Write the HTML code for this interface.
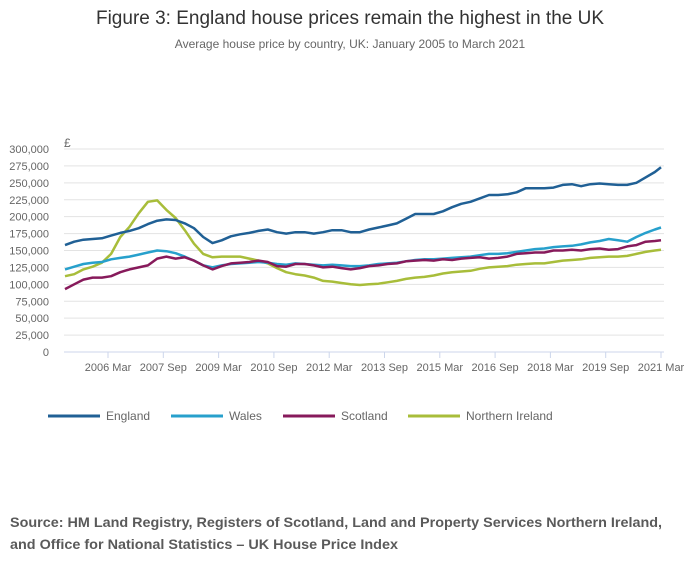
<!DOCTYPE html>
<html><head><meta charset="utf-8"><style>
body{margin:0;background:#fff;font-family:"Liberation Sans",sans-serif}
svg{display:block}
</style></head><body>
<svg id="chart" width="700" height="574" xmlns="http://www.w3.org/2000/svg">
<text x="350" y="24" text-anchor="middle" font-size="19" fill="#333">Figure 3: England house prices remain the highest in the UK</text>
<text x="350" y="48" text-anchor="middle" font-size="12" fill="#666">Average house price by country, UK: January 2005 to March 2021</text>
<text x="64" y="147" font-size="12" fill="#666">£</text>
<g id="grid"></g><g id="yticks"></g><g id="xticks"></g><g id="series"></g>
<g id="legend"></g>
<text x="10" y="527" font-size="14" font-weight="bold" fill="#5a5a5a" textLength="652" lengthAdjust="spacingAndGlyphs">Source: HM Land Registry, Registers of Scotland, Land and Property Services Northern Ireland,</text>
<text x="10" y="549" font-size="14" font-weight="bold" fill="#5a5a5a" textLength="388" lengthAdjust="spacingAndGlyphs">and Office for National Statistics – UK House Price Index</text>
</svg>
<script>
const yTicks=[0,25000,50000,75000,100000,125000,150000,175000,200000,225000,250000,275000,300000];
const xTickLabels=["2006 Mar","2007 Sep","2009 Mar","2010 Sep","2012 Mar","2013 Sep","2015 Mar","2016 Sep","2018 Mar","2019 Sep","2021 Mar"];
const xTickMonths=[14,32,50,68,86,104,122,140,158,176,194];
const seriesNames=["England","Wales","Scotland","Northern Ireland"];
const seriesColors=["#206095","#27a0cc","#871a5b","#a8bd3a"];
const england=[158,163,166,167,168,172,176,179,183,189,194,196,195,190,183,170,161,165,171,174,176,179,181,177,175,177,177,175,177,180,180,177,177,181,184,187,190,197,204,204,204,208,214,219,222,227,232,232,233,236,242,242,242,243,247,248,245,248,249,248,247,247,250,258,266,273];
const wales=[122,126,130,132,133,137,139,141,144,147,150,149,146,141,135,128,125,128,130,131,132,133,132,130,129,131,130,129,128,129,128,127,127,128,130,131,132,134,136,137,137,138,139,140,141,143,145,145,146,148,150,152,153,155,156,157,159,162,164,167,165,163,170,176,181,184];
const scotland=[93,100,107,110,110,112,118,122,125,128,138,141,138,140,135,128,122,127,131,132,133,135,133,127,126,130,130,128,125,126,124,122,124,127,128,130,131,134,135,136,135,137,136,138,139,140,138,139,141,145,146,147,147,150,150,151,150,152,153,151,152,156,158,163,164,165];
const nireland=[112,115,122,126,132,145,170,185,205,222,224,210,198,180,160,145,140,141,141,141,138,135,131,124,118,115,113,110,105,104,102,100,99,100,101,103,105,108,110,111,113,116,118,119,120,123,125,126,127,129,130,131,131,133,135,136,137,139,140,141,141,142,145,148,150,151];
const NS="http://www.w3.org/2000/svg";
const X0=65,X1=661,Y0=352,Y1=149;
function xs(m){return X0+(m/194)*(X1-X0);}
function ys(v){return Y0-(v/300000)*(Y0-Y1);}
function monthOf(i,n){return i===n-1?194:i*3;}
function mk(t,a,p){const e=document.createElementNS(NS,t);for(const k in a)e.setAttribute(k,a[k]);p.appendChild(e);return e;}
const grid=document.getElementById('grid'),yt=document.getElementById('yticks'),xt=document.getElementById('xticks'),sg=document.getElementById('series'),lg=document.getElementById('legend');
yTicks.forEach(v=>{
 const l=mk('line',{x1:64,x2:664,y1:ys(v),y2:ys(v),stroke:v===0?'#ccd6eb':'#e3e3e3','stroke-width':1},grid);
 
 
 const t=mk('text',{x:49,y:ys(v)+4,'text-anchor':'end','font-size':11,fill:'#666'},yt);
 t.textContent=v.toLocaleString('en-GB');
 
 
});
xTickLabels.forEach((s,i)=>{
 const x=xs(xTickMonths[i]);
 const l=mk('line',{x1:x,x2:x,y1:352,y2:358,stroke:'#ccd6eb'},xt);
 
 
 const t=mk('text',{x:x,y:371,'text-anchor':'middle','font-size':11,fill:'#666'},xt);
 t.textContent=s;
 
 
});
const allSeries=[england,wales,scotland,nireland];
const order=[3,1,2,0];
order.forEach(si=>{
 const d=allSeries[si];
 const pts=d.map((v,i)=>xs(monthOf(i,d.length)).toFixed(1)+','+ys(v*1000).toFixed(1)).join(' ');
 const p=mk('polyline',{points:pts,fill:'none',stroke:seriesColors[si],'stroke-width':2.5,'stroke-linejoin':'round'},sg);
 
 
});
const legX=[48,171,283,408];
seriesNames.forEach((n,i)=>{
 const l=mk('line',{x1:legX[i],x2:legX[i]+52,y1:416,y2:416,stroke:seriesColors[i],'stroke-width':3},lg);
 
 
 const t=mk('text',{x:legX[i]+58,y:420,'font-size':12,fill:'#666'},lg);
 t.textContent=n;
 
 
});
</script>
</body></html>
